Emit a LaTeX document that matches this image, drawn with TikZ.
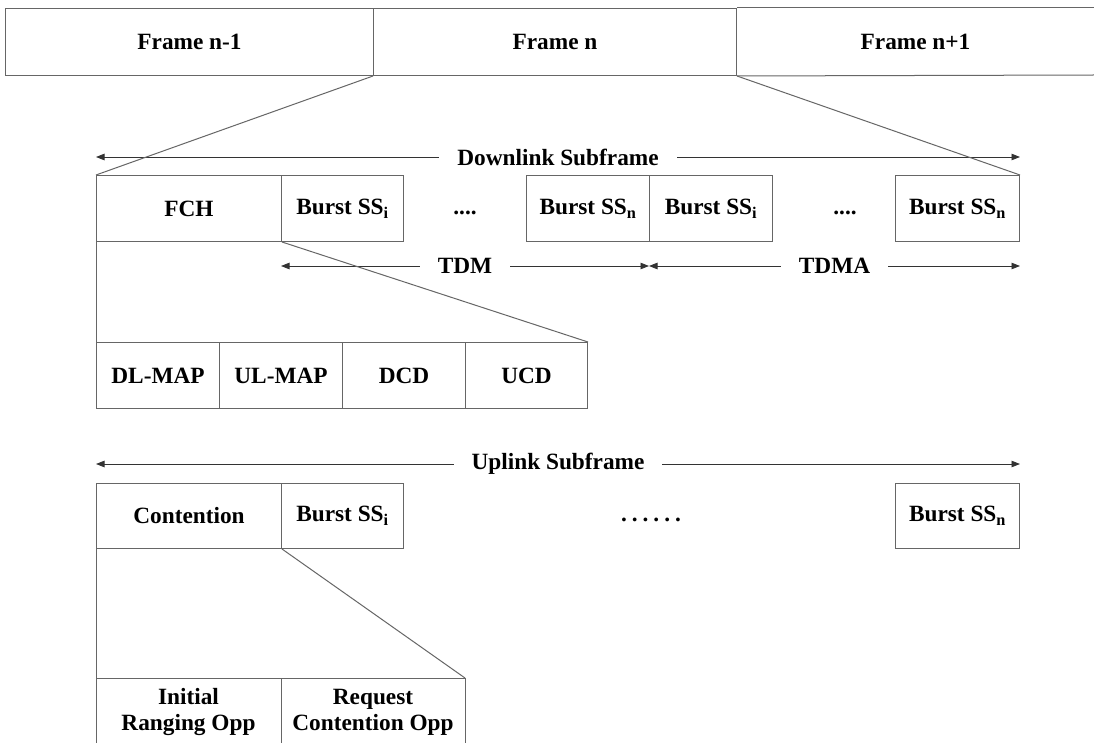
\documentclass[tikz,border=0pt]{standalone}
\usepackage{fontspec}
\setmainfont{Liberation Serif}
\usetikzlibrary{arrows.meta}
\begin{document}
\begin{tikzpicture}[x=1pt,y=-1pt,
  ln/.style={draw=black!60, line width=1pt},
  lbl/.style={font=\bfseries\fontsize{23.3}{26}\selectfont, inner sep=0pt, text=black},
  cell/.style={ln, lbl, anchor=north west, minimum height=66pt},
  arr/.style={draw=black!80, line width=0.9pt, {Triangle[length=8.5pt,width=6.5pt]}-{Triangle[length=8.5pt,width=6.5pt]}},
  arrlbl/.style={lbl, fill=white, inner xsep=18pt, inner ysep=2pt},
  plain/.style={lbl}
]
\useasboundingbox (0,0) rectangle (1094,743);
\fill[white] (0,0) rectangle (1094,743);

% top frames
\node[cell, minimum width=368pt, minimum height=67pt] (f1) at (5,8) {Frame n-1};
\node[cell, minimum width=363pt, minimum height=67pt] (f2) at (373,8) {Frame n};
\node[cell, draw=none, minimum width=358pt, minimum height=67pt] (f3) at (736,8) {Frame n+1};
\coordinate (f3tr) at (1094,8);
\coordinate (f3br) at (1094,75);
\draw[ln] (f2.north east) -- (f3tr);
\draw[ln] (f2.south east) -- (f3br);

% downlink subframe
\coordinate (dlL) at (96,157);
\coordinate (dlR) at (1020,157);
\draw[arr] (dlL) -- node[arrlbl] (dltxt) {Downlink Subframe} (dlR);

\node[cell, minimum width=185pt] (fch) at (96,175) {FCH};
\node[cell, minimum width=122pt] (b1) at (281,175) {Burst SS\textsubscript{i}};
\node[plain] (d1) at (465,213) {....};
\node[cell, minimum width=123pt] (b2) at (526,175) {Burst SS\textsubscript{n}};
\node[cell, minimum width=123pt] (b3) at (649,175) {Burst SS\textsubscript{i}};
\node[plain] (d2) at (845,213) {....};
\node[cell, minimum width=124pt] (b4) at (895,175) {Burst SS\textsubscript{n}};

\draw[ln] (f2.south west) -- (fch.north west);
\draw[ln] (f2.south east) -- (b4.north east);

% TDM / TDMA
\coordinate (tdmL) at (281,266);
\coordinate (tdmR) at (649,266);
\coordinate (tdmaR) at (1020,266);
\draw[arr] (tdmL) -- node[arrlbl] (tdmtxt) {TDM} (tdmR);
\draw[arr] (tdmR) -- node[arrlbl] (tdmatxt) {TDMA} (tdmaR);

% DL-MAP row
\node[cell, minimum width=123pt] (m1) at (96,342) {DL-MAP};
\node[cell, minimum width=123pt] (m2) at (219,342) {UL-MAP};
\node[cell, minimum width=123pt] (m3) at (342,342) {DCD};
\node[cell, minimum width=122pt] (m4) at (465,342) {UCD};
\draw[ln] (fch.south west) -- (m1.north west);
\draw[ln] (fch.south east) -- (m4.north east);

% uplink subframe
\coordinate (ulL) at (96,464);
\coordinate (ulR) at (1020,464);
\draw[arr] (ulL) -- node[arrlbl] (ultxt) {Uplink Subframe} (ulR);

\node[cell, minimum width=185pt, minimum height=65pt] (cont) at (96,483) {Contention};
\node[cell, minimum width=122pt, minimum height=65pt] (u1) at (281,483) {Burst SS\textsubscript{i}};
\node[plain] (d3) at (651,520) {.\hspace{5pt}.\hspace{5pt}.\hspace{5pt}.\hspace{5pt}.\hspace{5pt}.};
\node[cell, minimum width=124pt, minimum height=65pt] (u2) at (895,483) {Burst SS\textsubscript{n}};

% bottom row (open at the bottom)
\coordinate (bTL) at (96,678);
\coordinate (bTM) at (281,678);
\coordinate (bTR) at (465,678);
\coordinate (bBL) at (96,745);
\coordinate (bBM) at (281,745);
\coordinate (bBR) at (465,745);
\draw[ln] (bBL) -- (bTL) -- (bTR) -- (bBR);
\draw[ln] (bTM) -- (bBM);
\node[lbl, align=center] (init) at (188.5,712) {Initial\\Ranging Opp};
\node[lbl, align=center] (req) at (373,712) {Request\\Contention Opp};

\draw[ln] (cont.south west) -- (bTL);
\draw[ln] (cont.south east) -- (bTR);
\end{tikzpicture}
\end{document}
